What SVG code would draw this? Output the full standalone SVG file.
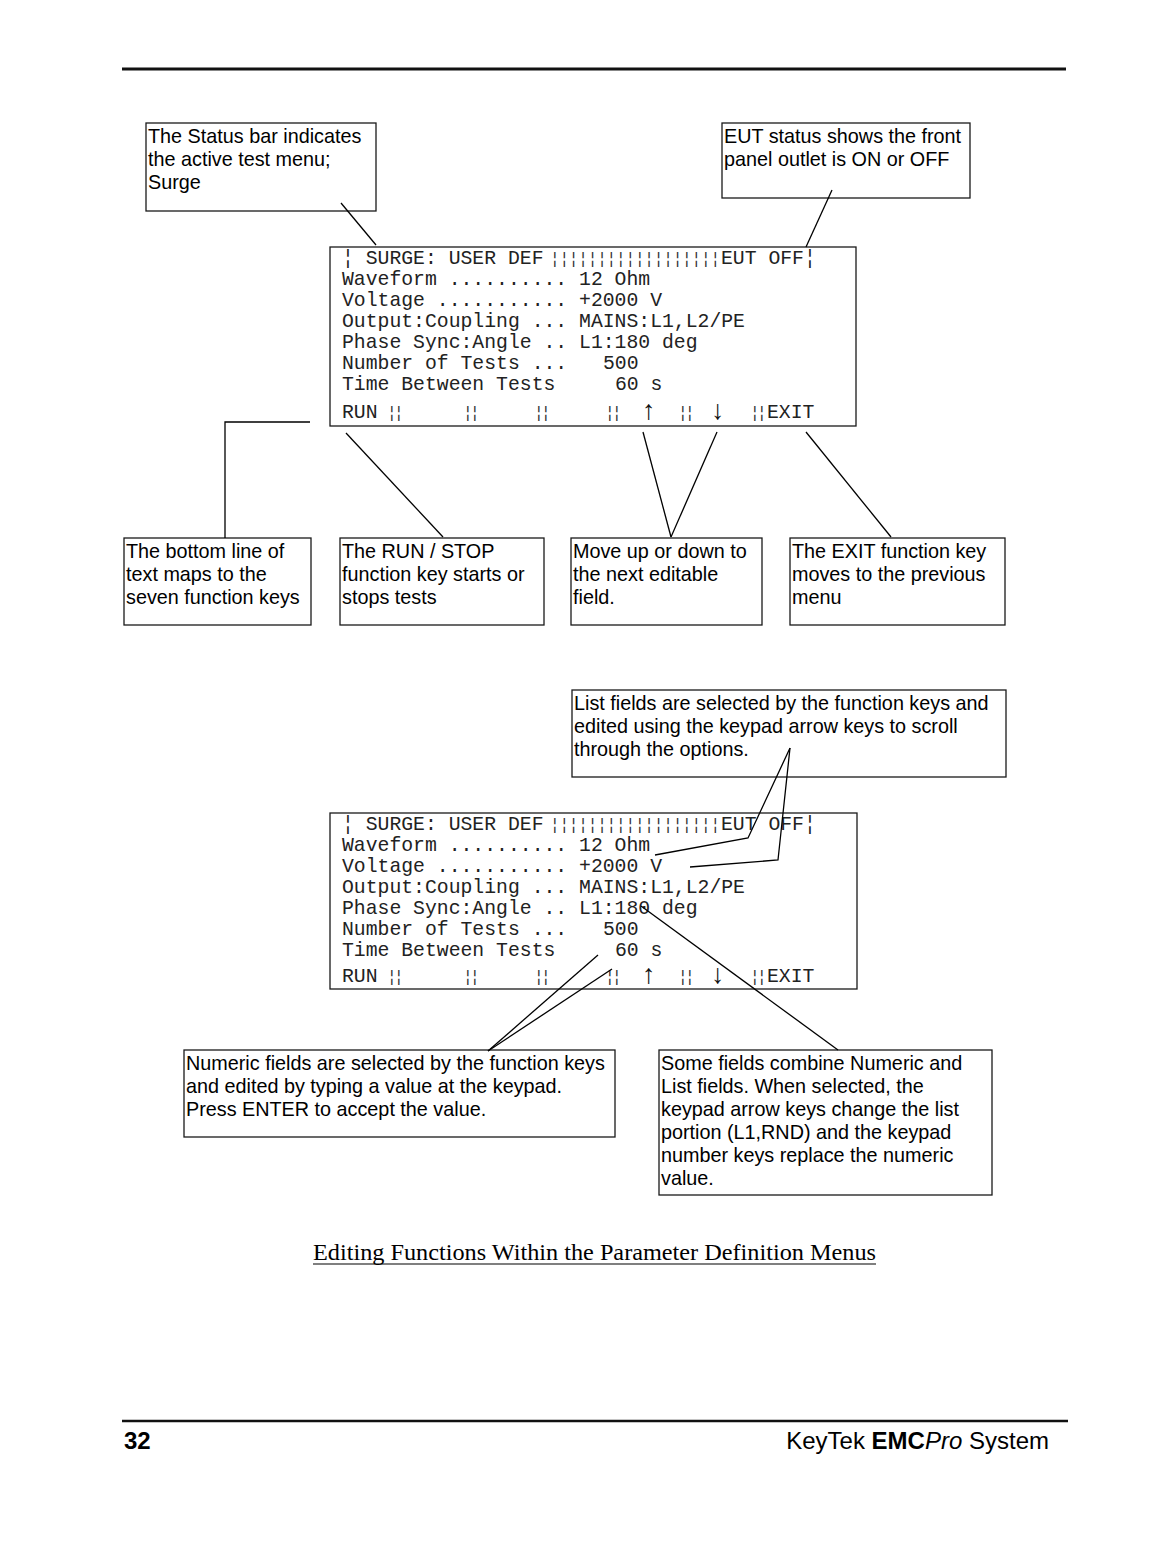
<svg xmlns="http://www.w3.org/2000/svg" width="1176" height="1544" viewBox="0 0 1176 1544">
<style>
.bg{fill:#fff}
.box{fill:none;stroke:#1a1a1a;stroke-width:1.3}
.t{font-family:"Liberation Sans",Arial,Helvetica,sans-serif;font-size:19.8px;fill:#000}
.m{font-family:"Liberation Mono","Courier New",monospace;font-size:19.75px;fill:#222;white-space:pre}
.bar{font-family:"Liberation Mono","Courier New",monospace;font-size:16px;fill:#333}
.arr{font-family:"Liberation Serif","Times New Roman",serif;font-size:27px;fill:#111}
.conn line,.conn polyline{stroke:#000;stroke-width:1.3;fill:none}
.rule{stroke:#111}
.cap{font-family:"Liberation Serif","Times New Roman",serif;font-size:22.5px;fill:#000}
.foot{font-family:"Liberation Sans",Arial,sans-serif;font-size:24px;fill:#000}
</style>
<rect class="bg" x="0" y="0" width="1176" height="1544"/>
<line class="rule" x1="122" y1="69" x2="1066" y2="69" stroke-width="3"/>

<g id="status-note">
<rect class="box" x="146" y="123" width="230" height="88"/>
<text class="t" x="148" y="143">The Status bar indicates</text>
<text class="t" x="148" y="166">the active test menu;</text>
<text class="t" x="148" y="189">Surge</text>
</g>

<g id="eut-note">
<rect class="box" x="722" y="123" width="248" height="75"/>
<text class="t" x="724" y="143">EUT status shows the front</text>
<text class="t" x="724" y="166">panel outlet is ON or OFF</text>
</g>

<g id="screen1">
<rect class="box" x="330" y="247" width="526" height="179"/>
<text class="m" x="342" y="264">¦ SURGE: USER DEF</text>
<text class="bar" x="550" y="264" textLength="170" lengthAdjust="spacing">¦¦¦¦¦¦¦¦¦¦¦¦¦¦¦¦¦¦</text>
<text class="m" x="721" y="264">EUT OFF¦</text>
<text class="m" x="342" y="285">Waveform .......... 12 Ohm</text>
<text class="m" x="342" y="306">Voltage ........... +2000 V</text>
<text class="m" x="342" y="327">Output:Coupling ... MAINS:L1,L2/PE</text>
<text class="m" x="342" y="348">Phase Sync:Angle .. L1:180 deg</text>
<text class="m" x="342" y="369">Number of Tests ...</text>
<text class="m" x="603" y="369">500</text>
<text class="m" x="342" y="390">Time Between Tests</text>
<text class="m" x="615" y="390">60 s</text>
<text class="m" x="342" y="418">RUN</text>
<text class="bar" x="387" y="418" textLength="16.5" lengthAdjust="spacing">¦¦</text>
<text class="bar" x="463" y="418" textLength="16.5" lengthAdjust="spacing">¦¦</text>
<text class="bar" x="534" y="418" textLength="16.5" lengthAdjust="spacing">¦¦</text>
<text class="bar" x="605" y="418" textLength="16.5" lengthAdjust="spacing">¦¦</text>
<text class="arr" x="642" y="419">↑</text>
<text class="bar" x="678" y="418" textLength="16.5" lengthAdjust="spacing">¦¦</text>
<text class="arr" x="711" y="419">↓</text>
<text class="bar" x="750" y="418" textLength="16.5" lengthAdjust="spacing">¦¦</text>
<text class="m" x="767" y="418">EXIT</text>
</g>

<g id="bottomline-note">
<rect class="box" x="124" y="538" width="187" height="87"/>
<text class="t" x="126" y="558">The bottom line of</text>
<text class="t" x="126" y="581">text maps to the</text>
<text class="t" x="126" y="604">seven function keys</text>
</g>

<g id="runstop-note">
<rect class="box" x="340" y="538" width="204" height="87"/>
<text class="t" x="342" y="558">The RUN / STOP</text>
<text class="t" x="342" y="581">function key starts or</text>
<text class="t" x="342" y="604">stops tests</text>
</g>

<g id="move-note">
<rect class="box" x="571" y="538" width="191" height="87"/>
<text class="t" x="573" y="558">Move up or down to</text>
<text class="t" x="573" y="581">the next editable</text>
<text class="t" x="573" y="604">field.</text>
</g>

<g id="exit-note">
<rect class="box" x="790" y="538" width="215" height="87"/>
<text class="t" x="792" y="558">The EXIT function key</text>
<text class="t" x="792" y="581">moves to the previous</text>
<text class="t" x="792" y="604">menu</text>
</g>

<g id="list-note">
<rect class="box" x="572" y="690" width="434" height="87"/>
<text class="t" x="574" y="710">List fields are selected by the function keys and</text>
<text class="t" x="574" y="733">edited using the keypad arrow keys to scroll</text>
<text class="t" x="574" y="756">through the options.</text>
</g>

<g id="screen2">
<rect class="box" x="330" y="813" width="527" height="176"/>
<text class="m" x="342" y="830">¦ SURGE: USER DEF</text>
<text class="bar" x="550" y="830" textLength="170" lengthAdjust="spacing">¦¦¦¦¦¦¦¦¦¦¦¦¦¦¦¦¦¦</text>
<text class="m" x="721" y="830">EUT OFF¦</text>
<text class="m" x="342" y="851">Waveform .......... 12 Ohm</text>
<text class="m" x="342" y="872">Voltage ........... +2000 V</text>
<text class="m" x="342" y="893">Output:Coupling ... MAINS:L1,L2/PE</text>
<text class="m" x="342" y="914">Phase Sync:Angle .. L1:180 deg</text>
<text class="m" x="342" y="935">Number of Tests ...</text>
<text class="m" x="603" y="935">500</text>
<text class="m" x="342" y="956">Time Between Tests</text>
<text class="m" x="615" y="956">60 s</text>
<text class="m" x="342" y="982">RUN</text>
<text class="bar" x="387" y="982" textLength="16.5" lengthAdjust="spacing">¦¦</text>
<text class="bar" x="463" y="982" textLength="16.5" lengthAdjust="spacing">¦¦</text>
<text class="bar" x="534" y="982" textLength="16.5" lengthAdjust="spacing">¦¦</text>
<text class="bar" x="605" y="982" textLength="16.5" lengthAdjust="spacing">¦¦</text>
<text class="arr" x="642" y="983">↑</text>
<text class="bar" x="678" y="982" textLength="16.5" lengthAdjust="spacing">¦¦</text>
<text class="arr" x="711" y="983">↓</text>
<text class="bar" x="750" y="982" textLength="16.5" lengthAdjust="spacing">¦¦</text>
<text class="m" x="767" y="982">EXIT</text>
</g>

<g id="numeric-note">
<rect class="box" x="184" y="1050" width="431" height="87"/>
<text class="t" x="186" y="1070">Numeric fields are selected by the function keys</text>
<text class="t" x="186" y="1093">and edited by typing a value at the keypad.</text>
<text class="t" x="186" y="1116">Press ENTER to accept the value.</text>
</g>

<g id="combined-note">
<rect class="box" x="659" y="1050" width="333" height="145"/>
<text class="t" x="661" y="1070">Some fields combine Numeric and</text>
<text class="t" x="661" y="1093">List fields. When selected, the</text>
<text class="t" x="661" y="1116">keypad arrow keys change the list</text>
<text class="t" x="661" y="1139">portion (L1,RND) and the keypad</text>
<text class="t" x="661" y="1162">number keys replace the numeric</text>
<text class="t" x="661" y="1185">value.</text>
</g>

<g id="connectors" class="conn">
<line x1="341" y1="203" x2="376" y2="245"/>
<line x1="832" y1="190" x2="806" y2="247"/>
<polyline points="310,422 225,422 225,538"/>
<line x1="346" y1="433" x2="443" y2="537"/>
<line x1="643" y1="432" x2="671" y2="537"/>
<line x1="717" y1="432" x2="671" y2="537"/>
<line x1="806" y1="432" x2="891" y2="537"/>
<polyline points="790,748 748,838 655,855"/>
<polyline points="790,748 778,860 690,867"/>
<line x1="598" y1="955" x2="488" y2="1051"/>
<line x1="612" y1="969" x2="488" y2="1051"/>
<line x1="641" y1="906" x2="838" y2="1050"/>
</g>

<g id="caption">
<text class="cap" x="313" y="1260" textLength="563" lengthAdjust="spacingAndGlyphs">Editing Functions Within the Parameter Definition Menus</text>
<line x1="313" y1="1264" x2="876" y2="1264" stroke="#000" stroke-width="1.2"/>
</g>

<g id="footer">
<line class="rule" x1="122" y1="1421" x2="1068" y2="1421" stroke-width="2.5"/>
<text class="foot" x="124" y="1449" font-weight="bold">32</text>
<text class="foot" x="1049" y="1449" text-anchor="end">KeyTek <tspan font-weight="bold">EMC</tspan><tspan font-style="italic">Pro</tspan> System</text>
</g>
</svg>
